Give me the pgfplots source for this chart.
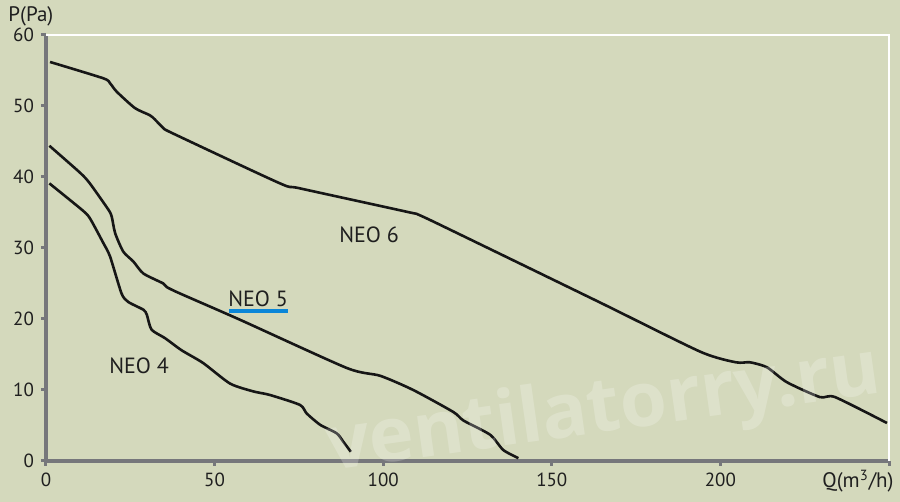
\documentclass[border=0pt]{standalone}
\usepackage{pgfplots}
\pgfplotsset{compat=1.18}
\usepackage{fontspec}
\setmainfont{PT Sans}
\newfontfamily\wmfont{Open Sans}
\definecolor{bg}{RGB}{212,217,188}
\definecolor{axgray}{RGB}{118,119,123}
\definecolor{neoblue}{RGB}{10,134,216}
\definecolor{curve}{RGB}{22,22,22}
\tikzset{neocurve/.style={draw=curve, line width=1.3pt, smooth, tension=0.4, mark=none}}
\begin{document}
\begin{tikzpicture}
\fill[bg] (0,0) rectangle (450pt,251pt);
\useasboundingbox (0,0) rectangle (450pt,251pt);
\begin{axis}[
  at={(23pt,20.5pt)}, anchor=south west,
  scale only axis, width=421.5pt, height=213pt,
  xmin=0, xmax=250, ymin=0, ymax=60,
  axis x line*=bottom, axis y line*=left,
  axis line style={axgray, line width=2pt, -},
  xtick={0,50,100,150,200,250}, xticklabels={0,50,100,150,200,{}},
  ytick={0,10,...,60},
  tick align=outside, major tick length=2.5pt,
  tick style={axgray, line width=1.5pt},
  ticklabel style={font=\fontsize{9.5}{9.5}\selectfont, text=black!88},
  /pgf/number format/assume math mode=true,
  clip=false,
]
\draw[white, line width=0.7pt] (rel axis cs:0,1) -- (rel axis cs:1,1) -- (rel axis cs:1,0);
% NEO 6
\addplot[neocurve] coordinates {
(1.2,56.2) (17.0,53.9) (19.0,53.2) (21.0,52.0) (26.4,49.7) (30.8,48.7) (32.3,48.1) (34.8,46.9) (37.8,46.1)
(69.4,39.1) (75.3,38.4) (107,35.1) (110.9,34.6) (122.8,31.9) (164.4,22.3) (194,15.4)
(204.6,13.9) (208.8,13.9) (213.8,13.2) (219.7,11.1) (229.5,9.0) (234,9.0) (249.4,5.35)
};
% NEO 5
\addplot[neocurve] coordinates {
(1.0,44.4) (10.1,40.6) (13.0,39.1) (18.5,35.4) (19.5,34.4) (20.5,32.1) (22.9,29.5) (25.9,28.1)
(28.9,26.4) (34.8,25.0) (35.8,24.5) (39.7,23.6) (57.5,19.9) (89.2,13.1) (99.1,12.0) (108.9,10.0)
(120.8,6.9) (123.8,5.7) (131.7,3.7) (135.6,1.55) (140.1,0.4)
};
% NEO 4
\addplot[neocurve] coordinates {
(1.0,39.1) (10.6,35.4) (13.0,34.2) (17.0,30.7) (19.0,28.8) (22.4,23.6) (24.4,22.4) (28.9,21.3)
(29.9,20.6) (31.3,18.5) (35.3,17.3) (40.2,15.6) (46.6,13.8) (54.6,10.9) (61.5,9.8) (66.4,9.3)
(75.3,7.9) (77.3,6.7) (81.3,5.1) (86.2,3.9) (88.2,2.7) (90.4,1.3)
};
\node[font=\fontsize{11}{11}\selectfont, text=black!88] at (axis cs:95.8,31.8) {NEO 6};
\node[font=\fontsize{11}{11}\selectfont, text=black!88] at (axis cs:62.9,22.8) {NEO 5};
\draw[neoblue, line width=2pt] (axis cs:54.3,21.1) -- (axis cs:71.8,21.1);
\node[font=\fontsize{11}{11}\selectfont, text=black!88] at (axis cs:27.6,13.4) {NEO 4};
\node[anchor=base west, font=\fontsize{10.5}{10.5}\selectfont, text=black!88, inner sep=0pt] at ([xshift=-19pt, yshift=6.6pt]rel axis cs:0,1) {P(Pa)};
\node[anchor=base east, font=\fontsize{10.5}{10.5}\selectfont, text=black!88, inner sep=0pt] at ([xshift=2.5pt, yshift=-13.5pt]rel axis cs:1,0) {Q(m\textsuperscript{3}/h)};
\end{axis}
\node[rotate=8, text=white, opacity=0.22, font=\wmfont\bfseries\fontsize{38}{38}\selectfont] at (302pt,45pt) {ventilatorry.ru};
\end{tikzpicture}
\end{document}
